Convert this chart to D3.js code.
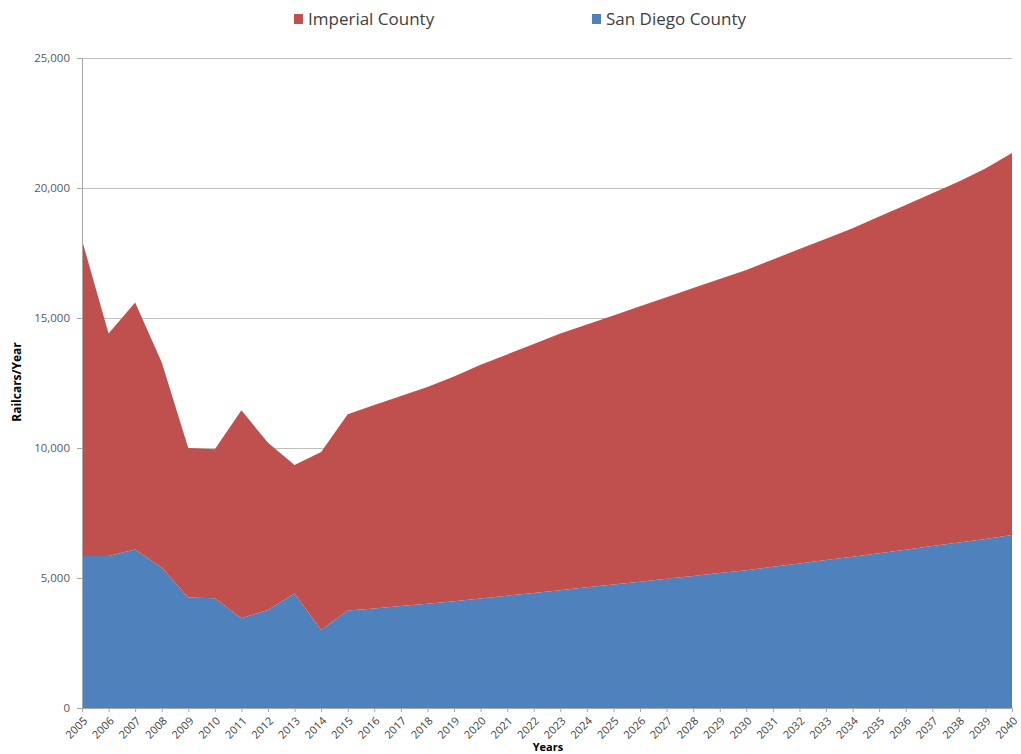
<!DOCTYPE html>
<html><head><meta charset="utf-8">
<script src="https://cdn.jsdelivr.net/npm/d3@7"></script>
<style>body{margin:0;background:#fff}svg{display:block}</style>
</head><body>
<svg id="chart" width="1021" height="754"></svg>
<script>
const years = d3.range(2005, 2041).map(String);
const sanDiego = [5850,5850,6100,5400,4250,4220,3450,3770,4400,3000,3750,3830,3920,4010,4110,4210,4320,4420,4530,4640,4750,4860,4970,5080,5190,5300,5430,5560,5690,5820,5950,6090,6230,6370,6500,6650];
const imperial = [12150,8550,9500,7900,5750,5730,8000,6430,4950,6850,7550,7820,8080,8340,8640,8990,9280,9580,9870,10110,10350,10590,10830,11070,11310,11550,11820,12090,12360,12630,12950,13260,13570,13880,14250,14700];
const yTicks = [0,5000,10000,15000,20000,25000];
const seriesNames = ["San Diego County","Imperial County"];
const colors = {"San Diego County":"#4F81BD","Imperial County":"#C0504D"};

const svg = d3.select("#chart");
const mLeft = 82, mRight = 1012, mTop = 58, mBottom = 708;
const x = d3.scalePoint().domain(years).range([mLeft, mRight]);
const y = d3.scaleLinear().domain([0, 25000]).range([mBottom, mTop]);

// gridlines
svg.append("g").selectAll("line").data(yTicks.filter(d=>d>0)).join("line")
  .attr("x1", mLeft).attr("x2", mRight).attr("y1", d=>y(d)).attr("y2", d=>y(d))
  .attr("stroke", "#BEBEBE").attr("stroke-width", 1).attr("shape-rendering","crispEdges");

const table = years.map((yr,i)=>({year:yr, "San Diego County":sanDiego[i], "Imperial County":imperial[i]}));
const stack = d3.stack().keys(seriesNames)(table);
const area = d3.area().x(d=>x(d.data.year)).y0(d=>y(d[0])).y1(d=>y(d[1]));
svg.append("g").selectAll("path").data(stack).join("path")
  .attr("d", area).attr("fill", d=>colors[d.key]);

// y axis
const ya = svg.append("g").attr("transform", `translate(${mLeft},0)`)
  .call(d3.axisLeft(y).tickValues(yTicks).tickFormat(d3.format(",")).tickSize(5).tickPadding(7));
ya.select(".domain").attr("stroke","#A6A6A6");
ya.selectAll(".tick line").attr("stroke","#A6A6A6");
ya.selectAll("text").attr("font-family","Open Sans, Liberation Sans, sans-serif").attr("font-size",11.5).attr("fill","#595959");

// x axis
const xa = svg.append("g").attr("transform", `translate(0,${mBottom})`)
  .call(d3.axisBottom(x).tickSize(4).tickPadding(2));
xa.select(".domain").attr("stroke","#A6A6A6");
xa.selectAll(".tick line").attr("stroke","#A6A6A6");
xa.selectAll("text").attr("font-family","Open Sans, Liberation Sans, sans-serif").attr("font-size",11).attr("fill","#404040")
  .attr("text-anchor","end").attr("dy","0.3em").attr("transform","translate(-1,7) rotate(-45)");

// axis titles
svg.append("text").attr("transform","translate(21,382) rotate(-90)").attr("text-anchor","middle")
  .attr("font-family","Open Sans, Liberation Sans, sans-serif").attr("font-size",12).attr("font-weight","bold").attr("fill","#000")
  .text("Railcars/Year");
svg.append("text").attr("x",548).attr("y",751).attr("text-anchor","middle")
  .attr("font-family","Open Sans, Liberation Sans, sans-serif").attr("font-size",11).attr("font-weight","bold").attr("fill","#000")
  .text("Years");

// legend
const legend = [{name:"Imperial County", x:294},{name:"San Diego County", x:592}];
const lg = svg.append("g").selectAll("g").data(legend).join("g").attr("transform", d=>`translate(${d.x},13)`);
lg.append("rect").attr("width",9).attr("height",10).attr("y",1).attr("fill", d=>colors[d.name]);
lg.append("text").attr("x",14).attr("y",11.5).attr("font-family","Open Sans, Liberation Sans, sans-serif").attr("font-size",17).attr("fill","#404040").text(d=>d.name);
</script>
</body></html>
